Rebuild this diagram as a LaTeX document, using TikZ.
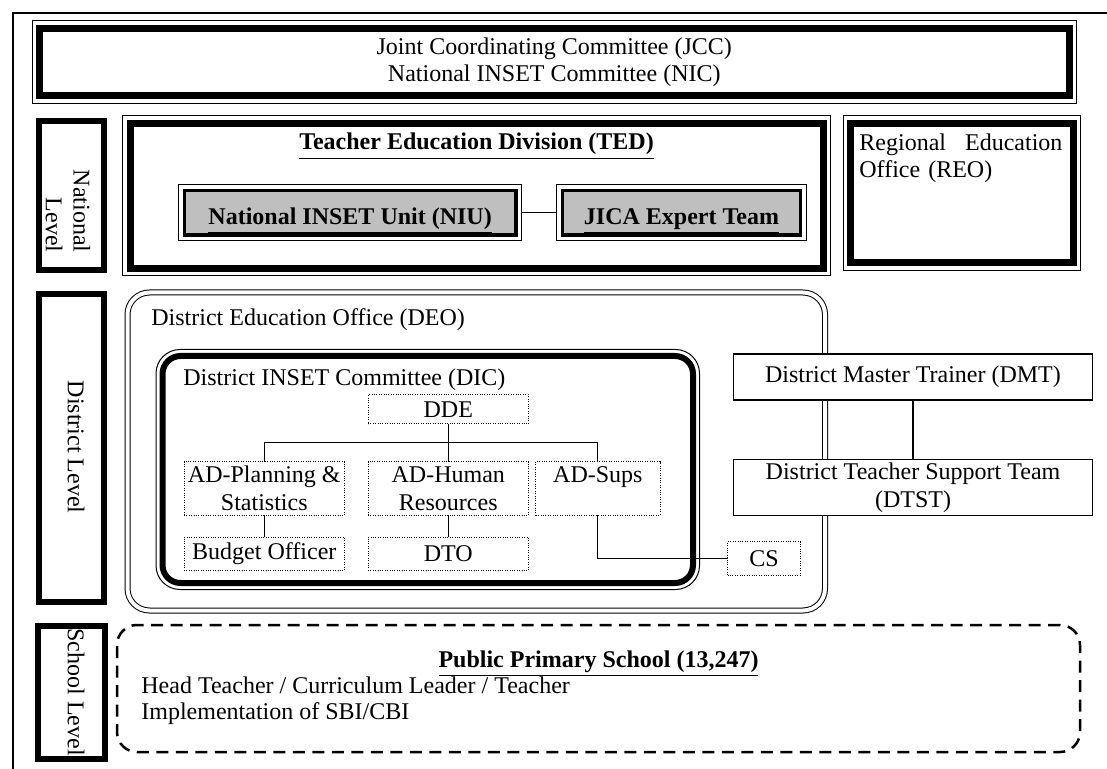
\documentclass[tikz,border=0pt]{standalone}
\usepackage{fontspec}
\setmainfont{Liberation Serif}
\usetikzlibrary{positioning,fit,backgrounds}

\begin{document}
\begin{tikzpicture}[
  x=0.5pt, y=-0.5pt,
  font=\fontsize{12pt}{13.8pt}\selectfont,
  heavy/.style={draw, line width=3.5pt, inner sep=0pt},
  rim/.style={draw, line width=0.5pt, inner sep=2pt},
  lvl/.style={draw, line width=3pt, inner sep=0pt},
  lvltxt/.style={rotate=-90, align=right, inner sep=0pt},
  unit/.style={draw, line width=1.75pt, fill=gray!50, inner sep=0pt},
  unitrim/.style={draw, line width=0.5pt, fill=white, inner sep=2pt},
  deobox/.style={draw, line width=0.5pt, double, double distance=2pt,
                 rounded corners=11pt, inner sep=0pt},
  dicbox/.style={draw, line width=3pt, rounded corners=9pt, inner sep=0pt},
  dicrim/.style={draw, line width=0.5pt, rounded corners=12pt, inner sep=1.75pt},
  dotbox/.style={draw, line width=0.5pt, dash pattern=on 0.5pt off 0.7pt,
                 fill=white, align=center, inner sep=0pt, outer sep=0pt,
                 minimum width=80.3pt},
  plain/.style={draw, line width=0.7pt, fill=white, align=center,
                inner sep=0pt, outer sep=0pt, minimum width=179.35pt},
  schoolbox/.style={draw, line width=1.25pt, dash pattern=on 6pt off 3.75pt,
                    rounded corners=10pt, inner sep=0pt},
  txt/.style={inner sep=0pt},
  hd/.style={inner sep=0pt, font=\fontsize{12pt}{13.8pt}\selectfont\bfseries},
  link/.style={line width=0.6pt}
]
\useasboundingbox (0,0) rectangle (1107,769);
\draw[line width=0.6pt] (13,769) |- (1107,13);

% committees
\node[heavy, fit={(39.5,28.5) (1069,96)}] (jcc) {};
\node[rim, fit=(jcc)] (jccrim) {};
\node[txt, align=center] (jcctxt) at (jcc.center)
  {Joint Coordinating Committee (JCC)\\National INSET Committee (NIC)};

% level labels
\node[lvl, fit={(38.7,121.3) (104,269.7)}] (natl) {};
\node[lvltxt, anchor=east] (natltxt) at (68,253) {National\\Level};
\node[lvl, fit={(38.7,294) (104,602)}] (dist) {};
\node[lvltxt] (disttxt) at (76,447) {District Level};
\node[lvl, fit={(38.3,626.3) (105,758.7)}] (schl) {};
\node[lvltxt] (schltxt) at (76,692) {School Level};

% national level
\node[heavy, fit={(130,123.3) (823,268.5)}] (ted) {};
\node[rim, fit=(ted)] (tedrim) {};
\node[hd, anchor=base] (tedtitle) at (476.5,150)
  {\underline{Teacher Education Division (TED)}};
\node[unit, fit={(184.3,190.7) (516,234.8)}] (niu) {};
\node[unit, fit={(562.5,190.7) (800.5,234.8)}] (jica) {};
\node[hd, anchor=base] (niutxt) at ([yshift=-6pt]niu.center) {\underline{National INSET Unit (NIU)}};
\node[hd, anchor=base] (jicatxt) at ([yshift=-6pt]jica.center) {\underline{JICA Expert Team}};
\begin{pgfonlayer}{background}
  \node[unitrim, fit=(niu)] (niurim) {};
  \node[unitrim, fit=(jica)] (jicarim) {};
\end{pgfonlayer}
\draw[link] (niurim) -- (jicarim);

\node[heavy, fit={(850.8,123.3) (1073.3,262.8)}] (reo) {};
\node[rim, fit=(reo)] (reorim) {};
\node[txt, anchor=north west, text width=101.5pt, align=left] (reotxt) at (859,133)
  {Regional\hfill Education\\Office (REO)};

% district level
\node[deobox, fit={(127.5,292.5) (825,610.5)}] (deo) {};
\node[txt, anchor=base west] (deotxt) at (151,326) {District Education Office (DEO)};
\node[dicbox, fit={(162.5,356) (693,583)}] (dic) {};
\node[dicrim, fit=(dic)] (dicframe) {};
\node[txt, anchor=base west] (dictxt) at (183,386) {District INSET Committee (DIC)};

\node[dotbox, minimum height=14.5pt] (dde) at (448.3,409.5) {DDE};
\node[dotbox, minimum height=26.7pt, below=18.85pt of dde] (ahr) {AD-Human\\Resources};
\node[dotbox, minimum height=26.7pt, left=11.7pt of ahr] (aps) {AD-Planning \&\\Statistics};
\node[dotbox, minimum height=26.7pt, minimum width=62.15pt, text depth=13.9pt,
      right=3.55pt of ahr] (asu) {AD-Sups};
\node[dotbox, minimum height=16.4pt, below=11.15pt of aps] (bud) {Budget Officer};
\node[dotbox, minimum height=16.4pt, below=11.15pt of ahr] (dto) {DTO};
\node[dotbox, minimum width=36.4pt, minimum height=16.7pt] (cs) at (764,558.4) {CS};

\coordinate (bar) at (448.3,442.3);
\draw[link] (dde) -- (ahr);
\draw[link] (aps.north) |- (bar) -| (asu.north);
\draw[link] (aps) -- (bud);
\draw[link] (ahr) -- (dto);
\draw[link] (asu.south) |- (cs.west);

\node[plain, minimum height=23pt] (dmt) at (913,377) {District Master Trainer (DMT)};
\node[plain, minimum height=28.2pt, below=29.65pt of dmt] (dtst)
  {District Teacher Support Team\\(DTST)};
\draw[link] (dmt) -- (dtst);

% school level
\node[schoolbox, fit={(117,625) (1080,752)}] (school) {};
\node[hd, anchor=base] (schooltitle) at (598.5,667)
  {\underline{Public Primary School (13,247)}};
\node[txt, anchor=north west, align=left, font=\fontsize{12pt}{13pt}\selectfont]
  (schooltxt) at (141,676)
  {Head Teacher / Curriculum Leader / Teacher\\Implementation of SBI/CBI};
\end{tikzpicture}
\end{document}
